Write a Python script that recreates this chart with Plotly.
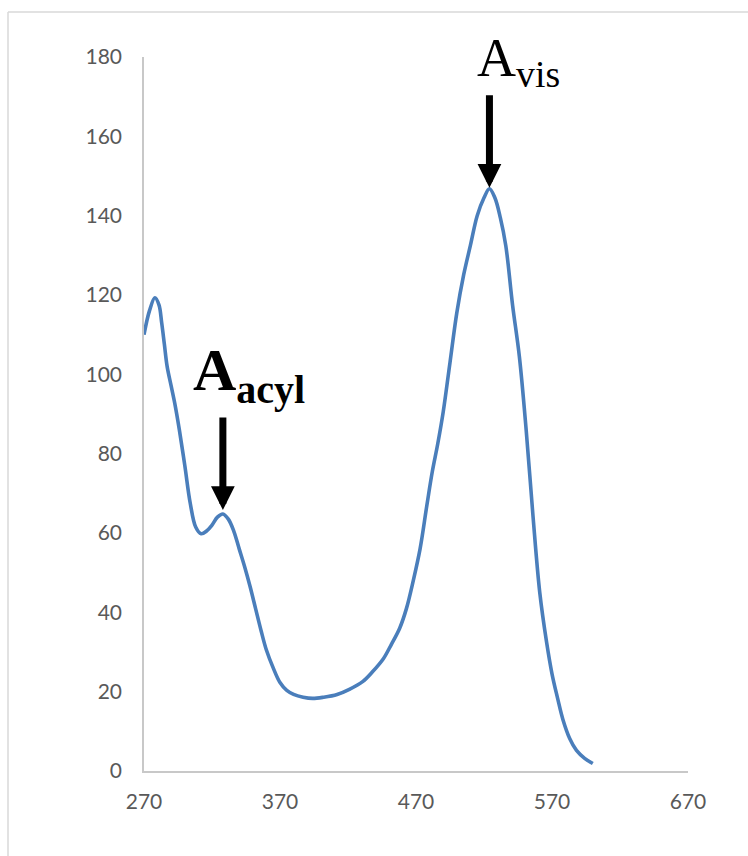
import plotly.graph_objects as go

wavelength = [270, 274, 278, 281, 283, 285, 287, 290, 293, 296,
              300, 304, 308, 312, 316, 320, 324, 328, 332, 336,
              340, 344, 348, 352, 356, 360, 365, 370, 375, 380,
              387, 394, 402, 412, 421, 431, 438, 446, 452, 458,
              463, 468, 473, 478, 482, 486, 490, 495, 500, 505,
              510, 515, 520, 524, 528, 532, 536, 541, 546, 551,
              556, 561, 566, 570, 574, 578, 583, 588, 594, 600]
absorbance = [110, 116, 119.3, 117.5, 113, 107.5, 102, 97, 92, 86,
              77, 67.5, 61.5, 59.8, 60.5, 62, 64, 64.8, 63.5, 60.5,
              56, 51.5, 46.5, 41, 35.5, 30.5, 26, 22.3, 20.3, 19.3,
              18.6, 18.3, 18.6, 19.3, 20.6, 22.6, 25, 28.3, 32, 36,
              41, 48, 56, 67, 75.5, 82.5, 90.5, 103, 115.5, 125,
              132.5, 140, 144.5, 146.8, 144.5, 139.5, 132.5, 117.5, 104.5, 86,
              64.4, 45, 32.5, 24.5, 18.5, 13, 8.2, 5.2, 3.2, 1.9]
x_ticks = [270, 370, 470, 570, 670]
y_ticks = [0, 20, 40, 60, 80, 100, 120, 140, 160, 180]

acyl_peak = (328, 64.8)
vis_peak = (524, 146.8)

W, H = 748, 856
ML, MR, MT, MB = 144, 60, 57, 84.5

fig = go.Figure()
fig.add_trace(go.Scatter(
    x=wavelength, y=absorbance, mode="lines",
    line=dict(color="#4a7ebb", width=3.6, shape="spline", smoothing=1.0),
    hoverinfo="skip", showlegend=False,
))

axis_font = dict(family="Lato, 'Open Sans', sans-serif", size=21, color="#595959")

fig.update_xaxes(
    range=[270, 670], tickvals=x_ticks, ticktext=[str(v) for v in x_ticks],
    showgrid=False, zeroline=False, showline=True, linecolor="#c8c8c8", linewidth=1.5,
    ticks="", tickfont=axis_font, ticklabelstandoff=11,
)
fig.update_yaxes(
    range=[0, 180], tickvals=y_ticks, ticktext=[str(v) for v in y_ticks],
    showgrid=False, zeroline=False, showline=True, linecolor="#c8c8c8", linewidth=1.5,
    ticks="", tickfont=axis_font, ticklabelstandoff=16,
)

pw = W - ML - MR
ph = H - MT - MB
fig.add_shape(type="line", xref="paper", yref="paper",
              x0=(8 - ML) / pw, x1=(W + 5 - ML) / pw,
              y0=(H - MB - 12) / ph, y1=(H - MB - 12) / ph,
              line=dict(color="#d9d9d9", width=1.5))
fig.add_shape(type="line", xref="paper", yref="paper",
              x0=(8 - ML) / pw, x1=(8 - ML) / pw,
              y0=(H - MB - 12) / ph, y1=-(MB + 5) / ph,
              line=dict(color="#d9d9d9", width=1.5))

# arrows
fig.add_annotation(x=acyl_peak[0], y=acyl_peak[1], xref="x", yref="y", text="",
                   showarrow=True, ax=0, ay=-98, arrowhead=2, arrowwidth=7,
                   arrowsize=0.68, arrowcolor="black", standoff=4)
fig.add_annotation(x=vis_peak[0], y=vis_peak[1], xref="x", yref="y", text="",
                   showarrow=True, ax=0, ay=-95, arrowhead=2, arrowwidth=7,
                   arrowsize=0.68, arrowcolor="black", standoff=1)

# labels
fig.add_annotation(x=347.5, y=100.0, xref="x", yref="y",
                   text="<b>A<sub><span style='font-size:40px'>acyl</span></sub></b>", showarrow=False,
                   font=dict(family="'Liberation Serif', 'Times New Roman', serif", size=60, color="black"))
fig.add_annotation(x=545.7, y=178.8, xref="x", yref="y",
                   text="A<sub>vis</sub>", showarrow=False,
                   font=dict(family="'Liberation Serif', 'Times New Roman', serif", size=54, color="black"))

fig.update_layout(
    width=W, height=H,
    margin=dict(l=ML, r=MR, t=MT, b=MB),
    paper_bgcolor="white", plot_bgcolor="white",
)

fig.write_html("out.html", config={"displayModeBar": False},
               post_script="document.body.style.margin='0';")
